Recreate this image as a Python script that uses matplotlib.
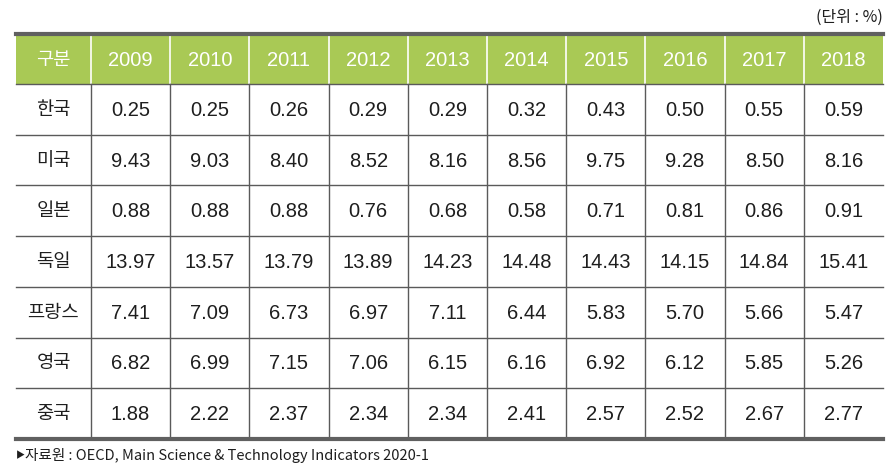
import matplotlib.pyplot as plt
import matplotlib.patches as patches
from matplotlib import font_manager

years = ['2009', '2010', '2011', '2012', '2013', '2014', '2015', '2016', '2017', '2018']
countries = ['한국', '미국', '일본', '독일', '프랑스', '영국', '중국']
korea = [0.25, 0.25, 0.26, 0.29, 0.29, 0.32, 0.43, 0.50, 0.55, 0.59]
usa = [9.43, 9.03, 8.40, 8.52, 8.16, 8.56, 9.75, 9.28, 8.50, 8.16]
japan = [0.88, 0.88, 0.88, 0.76, 0.68, 0.58, 0.71, 0.81, 0.86, 0.91]
germany = [13.97, 13.57, 13.79, 13.89, 14.23, 14.48, 14.43, 14.15, 14.84, 15.41]
france = [7.41, 7.09, 6.73, 6.97, 7.11, 6.44, 5.83, 5.70, 5.66, 5.47]
uk = [6.82, 6.99, 7.15, 7.06, 6.15, 6.16, 6.92, 6.12, 5.85, 5.26]
china = [1.88, 2.22, 2.37, 2.34, 2.34, 2.41, 2.57, 2.52, 2.67, 2.77]
rows = [korea, usa, japan, germany, france, uk, china]

header_label = '구분'
unit_text = '(단위 : %)'
source_text = '자료원 : OECD, Main Science & Technology Indicators 2020-1'

# narrow font for the numbers if there is one
installed = {f.name for f in font_manager.fontManager.ttflist}
if 'Liberation Sans Narrow' in installed:
    num_font = ['Liberation Sans Narrow', 'Noto Sans CJK KR']
    num_size = 15.5
else:
    num_font = ['Liberation Sans', 'Noto Sans CJK KR']
    num_size = 14.5
kor_font = ['Noto Sans CJK KR', 'DejaVu Sans']

fig = plt.figure(figsize=(8.96, 4.73), dpi=100)
ax = fig.add_axes([0, 0, 1, 1])
ax.set_xlim(0, 896)
ax.set_ylim(473, 0)
ax.axis('off')

left, right = 16, 883
top, head_bottom, bottom = 34, 84, 439
col_w = (right - 91) / len(years)
row_h = (bottom - head_bottom) / len(countries)
xs = [left, 91] + [91 + col_w * (i + 1) for i in range(len(years))]

green = '#a9c955'
line_c = '#5a5a5a'
txt_c = '#1e1e1e'

# header
ax.add_patch(patches.Rectangle((left, top), right - left, head_bottom - top,
                               facecolor=green, edgecolor='none'))
for x in xs[1:-1]:
    ax.plot([x, x], [top, head_bottom], color='white', lw=1.2)
    ax.plot([x, x], [head_bottom, bottom], color=line_c, lw=1.0)
ax.text((left + 91) / 2, (top + head_bottom) / 2, header_label, color='white',
        fontsize=13.5, ha='center', va='center', family=kor_font)
for i, y in enumerate(years):
    cx = 91 + col_w * (i + 0.5)
    ax.text(cx, (top + head_bottom) / 2 + 1, y, color='white', fontsize=num_size,
            ha='center', va='center', family=num_font)

# rows
for r, (name, vals) in enumerate(zip(countries, rows)):
    cy = head_bottom + row_h * (r + 0.5)
    ax.text((left + 91) / 2, cy, name, fontsize=13.5, ha='center', va='center',
            family=kor_font, color=txt_c)
    for i, v in enumerate(vals):
        cx = 91 + col_w * (i + 0.5)
        ax.text(cx, cy + 1, f'{v:.2f}', fontsize=num_size, ha='center', va='center',
                family=num_font, color=txt_c)
    if r > 0:
        yline = head_bottom + row_h * r
        ax.plot([left, right], [yline, yline], color=line_c, lw=1.0)

ax.plot([left, right], [head_bottom, head_bottom], color=line_c, lw=1.0)
ax.plot([left, right], [top, top], color='#606060', lw=3)
ax.plot([left, right], [bottom, bottom], color='#606060', lw=3)

ax.text(right, 17, unit_text, fontsize=11.5, ha='right', va='center',
        family=kor_font, color=txt_c)
ax.text(left, 456, '▶', fontsize=6.5, ha='left', va='center',
        family=kor_font, color=txt_c)
ax.text(left + 9, 455, source_text, fontsize=10.5, ha='left', va='center',
        family=kor_font, color=txt_c)

fig.savefig('out.png', dpi=100)
